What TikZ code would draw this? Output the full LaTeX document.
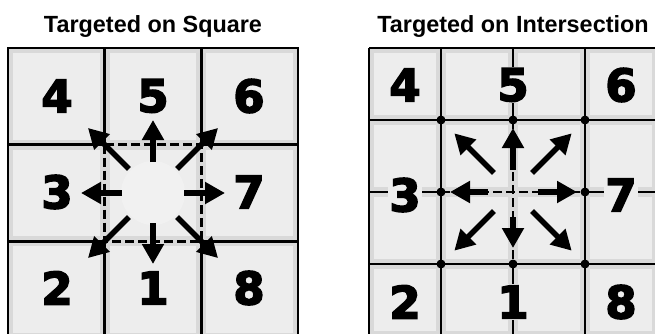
\documentclass[tikz,border=0pt]{standalone}
\usepackage{fontspec}
\setmainfont{Liberation Sans}
\newfontfamily\digitfont{DejaVu Sans}[BoldFeatures={FakeBold=3.5}]
\usepackage{xcolor}
\usepackage{tikz}
\usetikzlibrary{arrows.meta,calc}
\definecolor{cellout}{gray}{0.85}
\definecolor{cellin}{gray}{0.93}
\definecolor{spot}{gray}{0.945}
\tikzset{
title/.style={
font=\fontsize{23.4}{24}\selectfont\bfseries,
anchor=base
},
digit/.style={
font=\digitfont\fontsize{45}{45}\selectfont\bfseries,
fill=cellin,
inner sep=1.5pt
},
gridline/.style={
line width=2.5pt
},
dashline/.style={
line width=2.5pt,
dash pattern=on 9pt off 4pt
},
arrow/.style={
-{Triangle[length=20pt 0 0,width=21pt 0 0]},
line width=5.5pt
},
hit/.style={
circle,
fill,
inner sep=0pt,
minimum size=9pt
}
}

\begin{document}
\begin{tikzpicture}[x=1pt,y=-1pt]

\useasboundingbox[fill=white] (0,0) rectangle (655,333);

\begin{scope}
\clip (0,0) rectangle (655,333);

\foreach \i in {0,1,2}
\foreach \j in {0,1,2}{
\fill[cellout] ({8+96.67*\i},{48+96.67*\j}) rectangle ++(96.67,96.67);
\fill[cellin] ({13+96.67*\i},{53+96.67*\j}) rectangle ++(86.67,86.67);
}

\coordinate (sqc) at (153,193);

\fill[spot] (sqc) circle (32pt);

\draw[gridline] (8,48) rectangle (298,338);

\draw[gridline] (104.67,48) -- (104.67,144.67) (104.67,241.33) -- (104.67,338);

\draw[gridline] (201.33,48) -- (201.33,144.67) (201.33,241.33) -- (201.33,338);

\draw[gridline] (8,144.67) -- (104.67,144.67) (201.33,144.67) -- (298,144.67);

\draw[gridline] (8,241.33) -- (104.67,241.33) (201.33,241.33) -- (298,241.33);

\draw[dashline] (104.67,144.67) rectangle (201.33,241.33);

\foreach \i in {0,1,2,3}
\foreach \j in {0,1,2,3}{
\fill[cellout] ({369+72*\i},{48+72*\j}) rectangle ++(72,72);
\fill[cellin] ({374+72*\i},{53+72*\j}) rectangle ++(62,62);
}

\coordinate (inc) at (513,192);

\foreach \x in {369,441,585,657}
\draw[gridline] (\x,48) -- (\x,336);

\foreach \y in {48,120,264,336}
\draw[gridline] (369,\y) -- (657,\y);

\draw[gridline] (513,48) -- (513,120) (513,264) -- (513,336);

\draw[gridline] (369,192) -- (441,192) (585,192) -- (657,192);

\draw[dashline] (513,120) -- (513,264);

\draw[dashline] (441,192) -- (585,192);
\end{scope}

\node[title](sqtitle) at (153,32){Targeted on Square};

\node[title](intitle) at (513,32){Targeted on Intersection};

\node[digit](sq4) at (57,96){4};

\node[digit](sq5) at (153,96){5};

\node[digit](sq6) at (249,96){6};

\node[digit](sq3) at (57,192){3};

\node[digit](sq7) at (249,192){7};

\node[digit](sq2) at (57,288){2};

\node[digit](sq1) at (153,288){1};

\node[digit](sq8) at (249,288){8};

\node[digit](in4) at (405,85){4};

\node[digit](in5) at (513,85){5};

\node[digit](in6) at (621,85){6};

\node[digit](in3) at (405,195){3};

\node[digit](in7) at (621,195){7};

\node[digit](in2) at (405,302){2};

\node[digit](in1) at (513,302){1};

\node[digit](in8) at (621,302){8};

\foreach \a/\r/\R in {0/31/72,90/30/71,180/31/72,270/31/73,45/34/92,135/34/92,225/34/92,315/34/92}
\draw[arrow] ($(sqc)+(\a:\r)$) -- ($(sqc)+(\a:\R)$);

\foreach \a/\r/\R in {0/25/64,90/25/56,180/25/63,270/22/64,45/27/83,135/27/83,225/27/83,315/27/83}
\draw[arrow] ($(inc)+(\a:\r)$) -- ($(inc)+(\a:\R)$);

\foreach \x/\y [count=\k] in {441/120,513/120,585/120,441/192,585/192,441/264,513/264,585/264}
\node[hit](hit\k) at (\x,\y){};

\end{tikzpicture}
\end{document}
